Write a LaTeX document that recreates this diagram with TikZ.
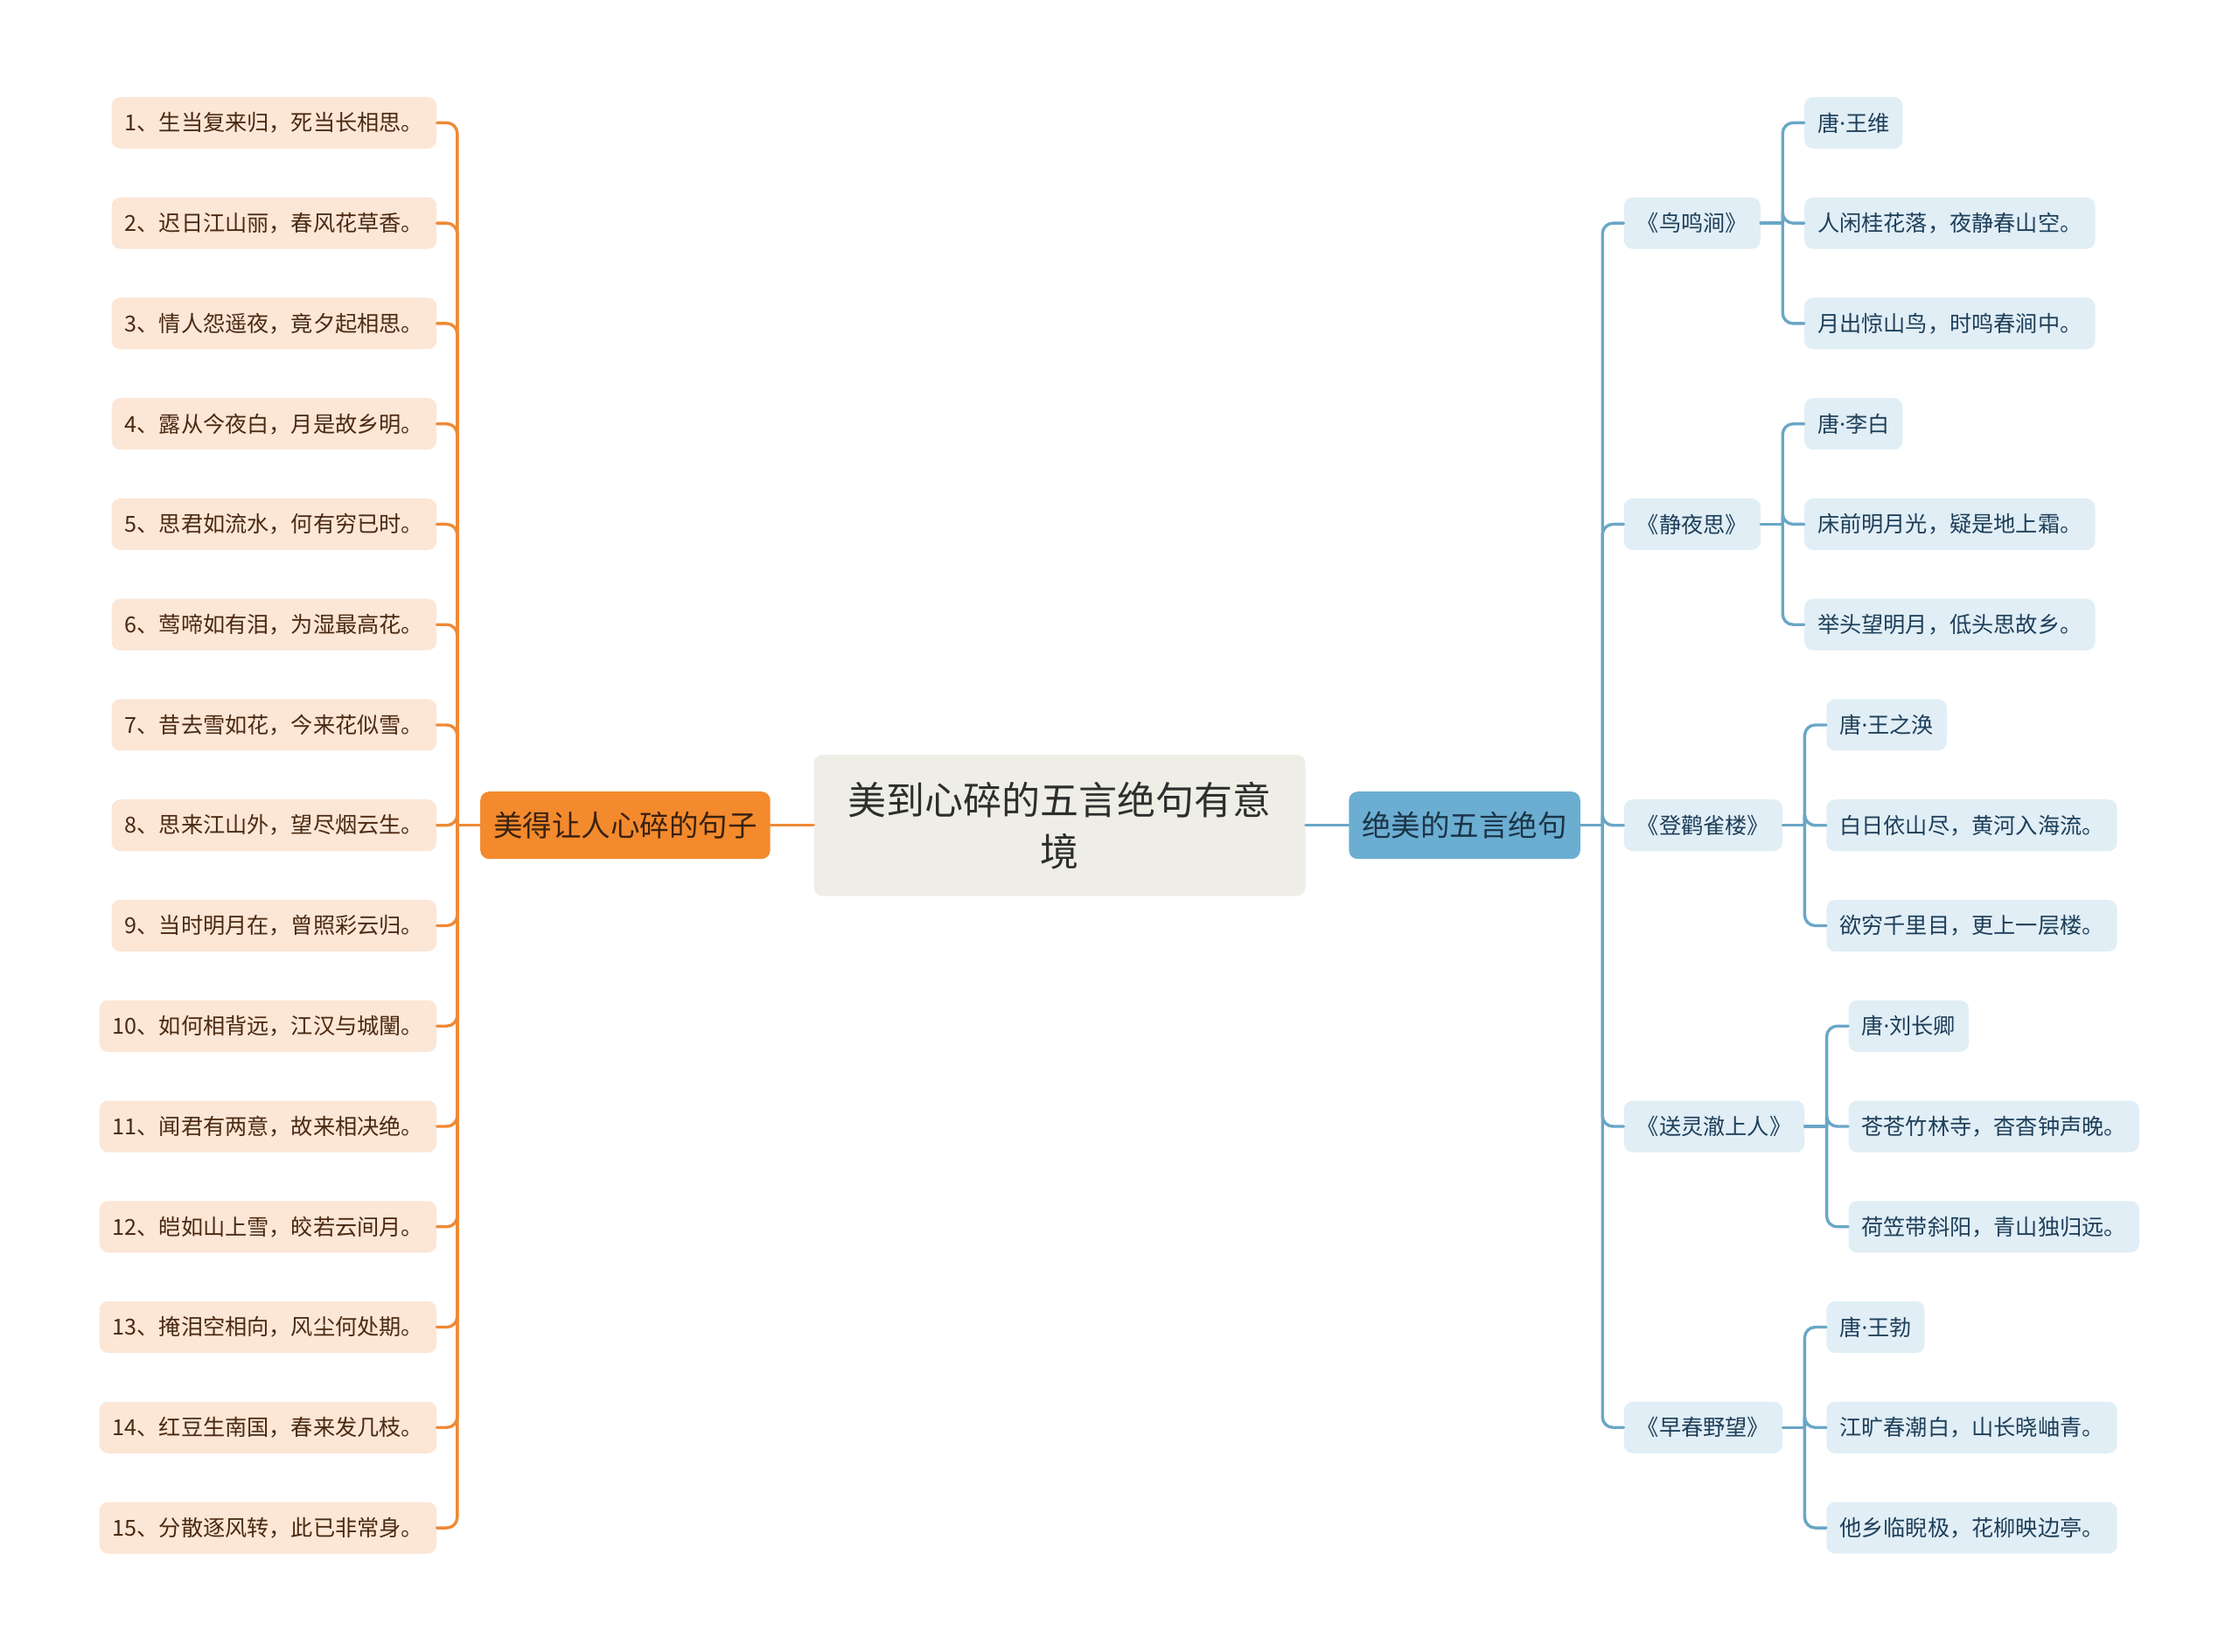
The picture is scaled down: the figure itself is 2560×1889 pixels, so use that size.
\documentclass[tikz,border=0pt]{standalone}
\usepackage{fontspec}
\newfontfamily\cjk{Noto Sans CJK SC}
\newfontfamily\latn{Noto Sans}
\usetikzlibrary{positioning}
\definecolor{rootfill}{HTML}{EFEEE6}
\definecolor{roottext}{HTML}{2E2E2E}
\definecolor{mainorange}{HTML}{F38A2D}
\definecolor{mainbrown}{HTML}{3A2110}
\definecolor{mainblue}{HTML}{6BAED1}
\definecolor{mainnavy}{HTML}{1B3347}
\definecolor{peach}{HTML}{FCE6D6}
\definecolor{leafbrown}{HTML}{4B2A12}
\definecolor{paleblue}{HTML}{E1EEF6}
\definecolor{leafnavy}{HTML}{1E3F5A}
\definecolor{linkorange}{HTML}{EE8A36}
\definecolor{linkblue}{HTML}{6AA6C6}
\newcommand\tdot{{\latn ·}}

\begin{document}
\begin{tikzpicture}[x=0.5pt,y=-0.5pt,line cap=round,line join=round,
  box/.style={rounded corners=5pt,inner xsep=7.5pt,inner ysep=0pt,
    font=\cjk\fontsize{12.6}{15}\selectfont},
  leafl/.style={box,fill=peach,text=leafbrown,minimum height=29.5pt,anchor=east},
  leafr/.style={box,fill=paleblue,text=leafnavy,minimum height=29.5pt,anchor=west},
  mainbox/.style={box,minimum height=38.5pt,font=\cjk\fontsize{16.75}{20}\selectfont},
  oline/.style={draw=linkorange,line width=1.7pt,rounded corners=6pt},
  bline/.style={draw=linkblue,line width=1.7pt,rounded corners=6pt}]
  \useasboundingbox (0,0) rectangle (2560,1889);
  \def\ystep{114.76}

  % root and the two main branches
  \node[box,fill=rootfill,text=roottext,minimum width=281pt,minimum height=80.8pt,
    align=center,font=\cjk\fontsize{22}{29.5}\selectfont] (root) at (1211.5,943.7)
    {美到心碎的五言绝句有意\\境};
  \node[mainbox,fill=mainorange,text=mainbrown,left=24.5pt of root] (ml) {美得让人心碎的句子};
  \node[mainbox,fill=mainblue,text=mainnavy,right=24.5pt of root] (mr) {绝美的五言绝句};
  \draw[oline] (root.west) -- (ml.east);
  \draw[bline] (root.east) -- (mr.west);

  % left: fifteen lines
  \coordinate (ls) at ([xshift=-13pt]ml.west);
  \draw[oline] (ml.west) -- (ls);
  \foreach \i/\txt in {1/1、生当复来归，死当长相思。,2/2、迟日江山丽，春风花草香。,
    3/3、情人怨遥夜，竟夕起相思。,4/4、露从今夜白，月是故乡明。,
    5/5、思君如流水，何有穷已时。,6/6、莺啼如有泪，为湿最高花。,
    7/7、昔去雪如花，今来花似雪。,8/8、思来江山外，望尽烟云生。,
    9/9、当时明月在，曾照彩云归。,10/10、如何相背远，江汉与城闉。,
    11/11、闻君有两意，故来相决绝。,12/12、皑如山上雪，皎若云间月。,
    13/13、掩泪空相向，风尘何处期。,14/14、红豆生南国，春来发几枝。,
    15/15、分散逐风转，此已非常身。}{
    \pgfmathsetmacro\yy{140.4+(\i-1)*\ystep}
    \node[leafl] (l\i) at (499.6,\yy) {\txt};
    \draw[oline] (ls) |- (l\i.east);
  }

  % right: five poems, each with author and two lines
  \coordinate (rs) at ([xshift=12.5pt]mr.east);
  \draw[bline] (mr.east) -- (rs);
  \foreach \g/\ttl/\au/\pa/\pb in {1/《鸟鸣涧》/唐\tdot 王维/人闲桂花落，夜静春山空。/月出惊山鸟，时鸣春涧中。,
    2/《静夜思》/唐\tdot 李白/床前明月光，疑是地上霜。/举头望明月，低头思故乡。,
    3/《登鹳雀楼》/唐\tdot 王之涣/白日依山尽，黄河入海流。/欲穷千里目，更上一层楼。,
    4/《送灵澈上人》/唐\tdot 刘长卿/苍苍竹林寺，杳杳钟声晚。/荷笠带斜阳，青山独归远。,
    5/《早春野望》/唐\tdot 王勃/江旷春潮白，山长晓岫青。/他乡临睨极，花柳映边亭。}{
    \pgfmathsetmacro\yb{140.4+(3*\g-2)*\ystep}
    \node[leafr] (t\g) at (1856.4,\yb) {\ttl};
    \draw[bline] (rs) |- (t\g.west);
    \coordinate (s\g) at ([xshift=12.5pt]t\g.east);
    \path (s\g) ++(24.5,-\ystep) node[leafr] (a\g) {\au}
      ++(0,\ystep) node[leafr] (b\g) {\pa}
      ++(0,\ystep) node[leafr] (c\g) {\pb};
    \draw[bline] (t\g.east) -- (s\g);
    \foreach \n in {a,b,c}
      \draw[bline] (s\g) |- (\n\g.west);
  }
\end{tikzpicture}
\end{document}
